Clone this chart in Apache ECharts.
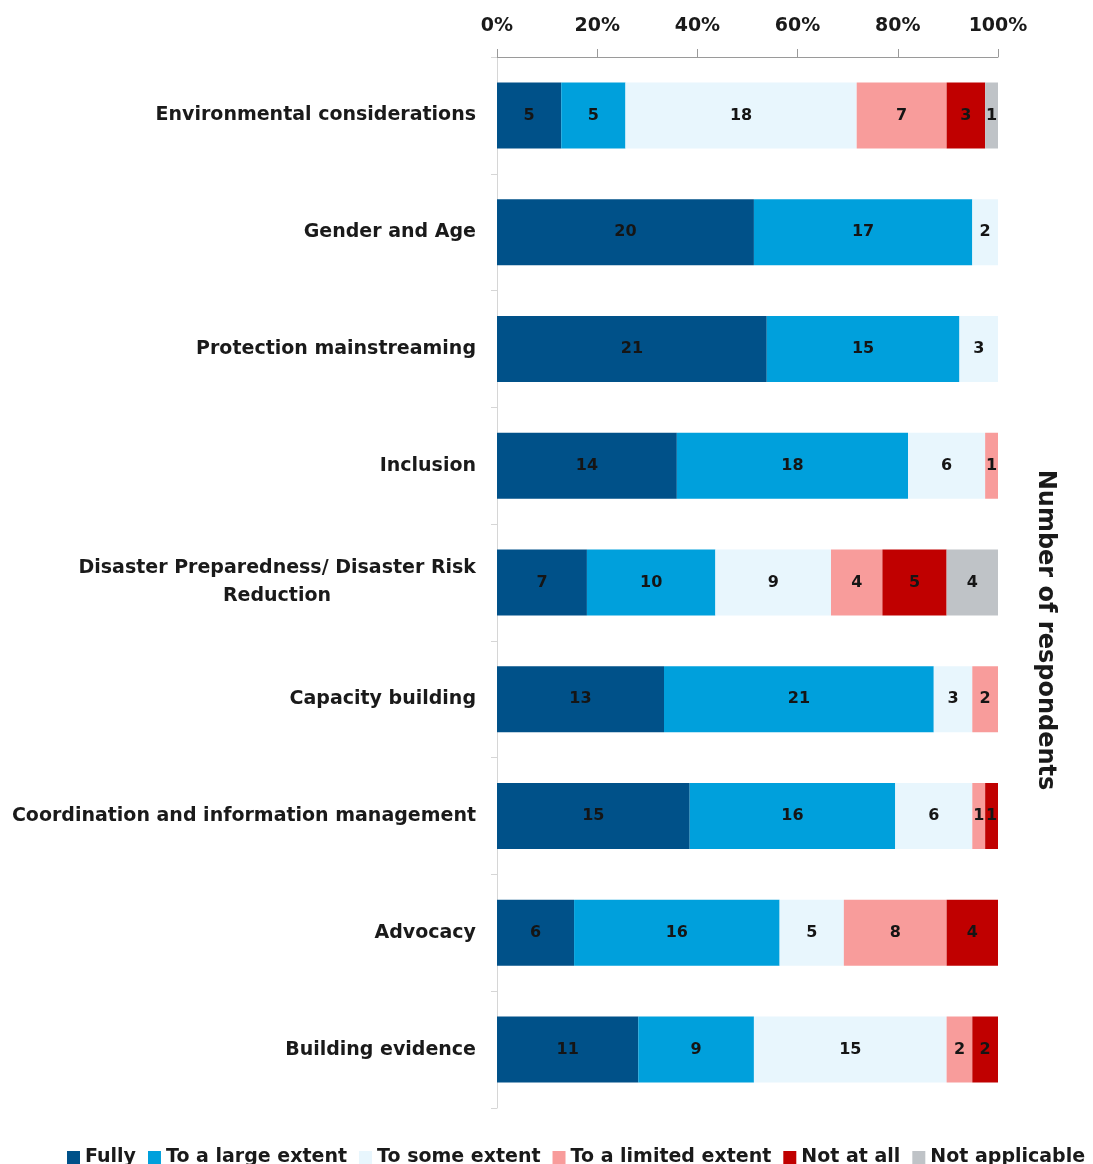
<!DOCTYPE html>
<html style="height: 100%">
   <head>
       <meta charset="utf-8">
   </head>
   <body style="height: 100%; margin: 0">
       <div id="container" style="width:1093px;height:1164px;"></div>
       <script src="https://cdn.jsdelivr.net/npm/echarts@6/dist/echarts.min.js"></script>
       <script type="text/javascript">
var categories = [
    'Environmental considerations',
    'Gender and Age',
    'Protection mainstreaming',
    'Inclusion',
    'Disaster Preparedness/ Disaster Risk Reduction',
    'Capacity building',
    'Coordination and information management',
    'Advocacy',
    'Building evidence'
];
var seriesNames = ['Fully', 'To a large extent', 'To some extent', 'To a limited extent', 'Not at all', 'Not applicable'];
var fully     = [5, 20, 21, 14, 7, 13, 15, 6, 11];
var large     = [5, 17, 15, 18, 10, 21, 16, 16, 9];
var some      = [18, 2, 3, 6, 9, 3, 6, 5, 15];
var limited   = [7, 0, 0, 1, 4, 2, 1, 8, 2];
var notAtAll  = [3, 0, 0, 0, 5, 0, 1, 4, 2];
var notAppl   = [1, 0, 0, 0, 4, 0, 0, 0, 0];
var xTicks = ['0%', '20%', '40%', '60%', '80%', '100%'];
var colors = ['#005189', '#00a0dc', '#e8f6fd', '#f89c9b', '#c00000', '#bfc3c7'];

var counts = [fully, large, some, limited, notAtAll, notAppl];
var totals = categories.map(function (c, i) {
    return counts.reduce(function (s, arr) { return s + arr[i]; }, 0);
});

var dom = document.getElementById("container");
var myChart = echarts.init(dom);

var labelFont = "'DejaVu Sans', sans-serif";

// measure the first line of the long label so the second line can be centred under it
var ctx = document.createElement('canvas').getContext('2d');
ctx.font = 'bold 19px ' + labelFont;
var longFirst = 'Disaster Preparedness/ Disaster Risk';
var longW = Math.ceil(ctx.measureText(longFirst).width);

var series = seriesNames.map(function (name, k) {
    return {
        name: name,
        type: 'bar',
        stack: 'total',
        barWidth: 66,
        itemStyle: { color: colors[k] },
        label: {
            show: true,
            position: 'inside',
            color: '#151515',
            fontFamily: labelFont,
            fontWeight: 'bold',
            fontSize: 16,
            formatter: function (p) {
                var n = counts[k][p.dataIndex];
                return n ? String(n) : '';
            }
        },
        data: counts[k].map(function (v, i) { return v / totals[i] * 100; })
    };
});

option = {
    animation: false,
    grid: { left: 497, right: 95, top: 57, bottom: 56 },
    legend: {
        top: 1143,
        left: 62,
        right: 0,
        itemWidth: 13,
        itemHeight: 13,
        itemGap: 12,
        icon: 'rect',
        textStyle: {
            fontFamily: labelFont,
            fontWeight: 'bold',
            fontSize: 19,
            color: '#1a1a1a'
        },
        data: seriesNames
    },
    xAxis: {
        type: 'value',
        position: 'top',
        min: 0,
        max: 100,
        interval: 20,
        axisLine: { show: true, lineStyle: { color: '#9a9a9a' } },
        axisTick: { show: true, length: 8, lineStyle: { color: '#9a9a9a' } },
        splitLine: { show: false },
        axisLabel: {
            margin: 21,
            fontFamily: labelFont,
            fontWeight: 'bold',
            fontSize: 19,
            color: '#1a1a1a',
            formatter: function (v) { return xTicks[v / 20]; }
        }
    },
    yAxis: {
        type: 'category',
        inverse: true,
        data: categories,
        axisLine: { show: true, lineStyle: { color: '#d6d6d6' } },
        axisTick: { show: true, length: 6, lineStyle: { color: '#d6d6d6' } },
        axisLabel: {
            margin: 21,
            fontFamily: labelFont,
            fontWeight: 'bold',
            fontSize: 19,
            color: '#1a1a1a',
            lineHeight: 28,
            formatter: function (v) {
                if (v.indexOf('Disaster Preparedness') === 0) {
                    return '{a|' + longFirst + '}\n{b|Reduction}';
                }
                return v;
            },
            rich: {
                a: { fontFamily: labelFont, fontWeight: 'bold', fontSize: 19, color: '#1a1a1a', lineHeight: 28 },
                b: { fontFamily: labelFont, fontWeight: 'bold', fontSize: 19, color: '#1a1a1a', lineHeight: 28, width: longW, align: 'center' }
            }
        }
    },
    graphic: [{
        type: 'text',
        x: 1045,
        y: 630,
        rotation: -Math.PI / 2,
        style: {
            text: 'Number of respondents',
            font: 'bold 24px ' + labelFont,
            fill: '#1a1a1a',
            align: 'center',
            verticalAlign: 'middle'
        }
    }],
    series: series
};

myChart.setOption(option, true);
       </script>
   </body>
</html>
